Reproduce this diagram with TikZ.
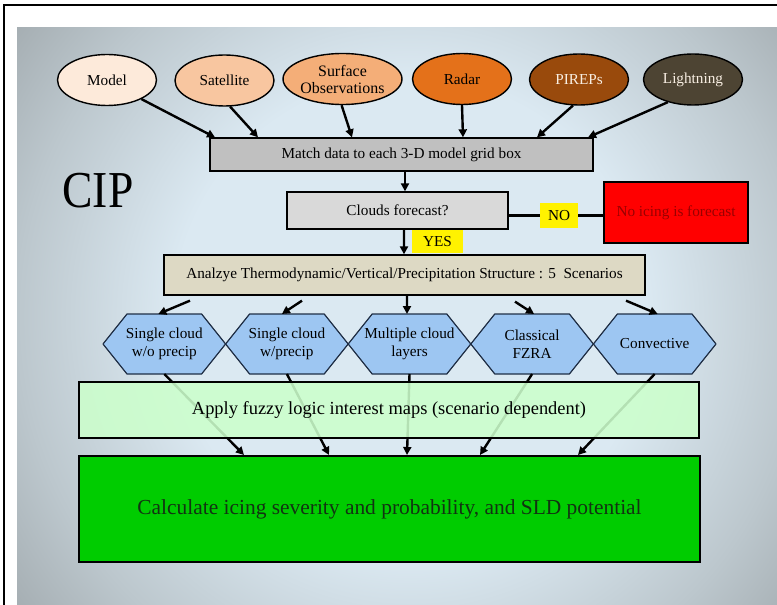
\documentclass[tikz,border=0pt]{standalone}
\usepackage{fontspec}
\setmainfont{Liberation Serif}
\usetikzlibrary{arrows.meta,calc,shapes.geometric,backgrounds}

% palette
\definecolor{bgin}{HTML}{DBE9F2}
\definecolor{bgmid}{HTML}{BCC7CD}
\definecolor{bgout}{HTML}{9EA6AA}
\definecolor{cmodel}{HTML}{FDEADA}
\definecolor{csat}{HTML}{F8C6A0}
\definecolor{csurf}{HTML}{F4AE78}
\definecolor{cradar}{HTML}{E4711A}
\definecolor{cpirep}{HTML}{994A0C}
\definecolor{clight}{HTML}{4D4433}
\definecolor{cmatch}{HTML}{C0C0C0}
\definecolor{cclouds}{HTML}{D9D9D9}
\definecolor{canalyze}{HTML}{DDD9C4}
\definecolor{chex}{HTML}{9DC6F2}
\definecolor{chexline}{HTML}{1F2E45}
\definecolor{cfuzzy}{HTML}{CCFFCC}
\definecolor{cgreen}{HTML}{00CC00}
\definecolor{cgreentext}{HTML}{123312}
\definecolor{cred}{HTML}{FF0000}
\definecolor{credtext}{HTML}{990000}
\definecolor{clighttext}{HTML}{F8EEE2}

% slide vignette: the path's box maps to the central 50bp square of the shading
\pgfdeclareradialshading{slidevignette}{\pgfpoint{0bp}{0bp}}{%
  color(0bp)=(bgin); color(15bp)=(bgin); color(25bp)=(bgmid);
  color(33bp)=(bgout); color(50bp)=(bgout)}

\begin{document}
\begin{tikzpicture}[x=1bp,y=-1bp,
  txt/.style={font=\fontsize{15.3}{18}\selectfont},
  src/.style={ellipse, draw=black, line width=1.4bp, minimum width=99bp,
    minimum height=51bp, inner sep=0pt, align=center, txt},
  box/.style={rectangle, draw=black, line width=1.3bp, inner sep=0pt,
    align=center, txt},
  tag/.style={rectangle, fill=yellow, inner sep=0pt, txt},
  hexnode/.style={rectangle, minimum width=122.6bp, minimum height=60bp,
    inner sep=0pt, outer sep=0pt, align=center, txt},
  hexshape/.style={fill=chex, draw=chexline, line width=1.2bp, line join=round},
  arr/.style={draw=black, line width=2.4bp, -{Triangle[length=8bp,width=8bp]}},
  link/.style={draw=black, line width=2.4bp},
]
\useasboundingbox (0,0) rectangle (777,605);

% page, slide background and frame
\begin{scope}[on background layer]
  \fill[white] (0,0) rectangle (777,605);
  \begin{scope}
    \clip (17,28) rectangle (777,605);
    \shade[shading=slidevignette] (17,-80) rectangle (803,713);
  \end{scope}
  \draw[line width=2bp] (3.5,605) -- (3.5,5) -- (777,5);
\end{scope}

% title
\node[font=\fontsize{52}{60}\selectfont, inner sep=0pt] (title) at (98,190.5)
  {\scalebox{0.88}[1]{CIP}};

% data sources
\node[src, fill=cmodel] (model) at (107,80) {Model};
\node[src, fill=csat] (sat) at (224.5,80.5) {Satellite};
\node[src, fill=csurf, font=\fontsize{16}{17}\selectfont] (surf) at (342.5,79) {Surface\\Observations};
\node[src, fill=cradar] (radar) at (462,79) {Radar};
\node[src, fill=cpirep, text=clighttext] (pirep) at (579,79.5) {PIREPs};
\node[src, fill=clight, text=clighttext] (light) at (693,79.5) {Lightning};

% processing chain
\node[box, fill=cmatch, minimum width=383bp, minimum height=33bp] (match) at (401.5,154.5)
  {Match data to each 3-D model grid box};
\node[box, fill=cclouds, minimum width=221bp, minimum height=37bp] (clouds) at (397.5,210.5)
  {Clouds forecast?};
\node[box, fill=cred, text=credtext, minimum width=144bp, minimum height=61bp] (red) at (676,212.5)
  {No icing is forecast};
\node[tag, minimum width=38bp, minimum height=25bp] (no) at (559,215.5) {NO};
\node[tag, minimum width=51bp, minimum height=23bp] (yes) at (437.5,241.5) {YES};
\node[box, fill=canalyze, minimum width=481bp, minimum height=40bp] (an) at (404.5,275)
  {Analzye Thermodynamic/Vertical/Precipitation Structure : 5\ \ Scenarios};

% scenarios
\node[hexnode] (h1) at (164.3,344) {Single cloud\\w/o precip};
\node[hexnode] (h2) at (286.9,344) {Single cloud\\w/precip};
\node[hexnode] (h3) at (409.5,344) {Multiple cloud\\layers};
\node[hexnode] (h4) at (532.1,344) {Classical\\FZRA};
\node[hexnode] (h5) at (654.7,344) {Convective};
\begin{scope}[on background layer]
  \foreach \h in {h1,h2,h3,h4,h5}
    \draw[hexshape] (\h.west) -- ($(\h.north west)+(24,0)$) -- ($(\h.north east)+(-24,0)$)
      -- (\h.east) -- ($(\h.south east)+(-24,0)$) -- ($(\h.south west)+(24,0)$) -- cycle;
\end{scope}

% result box
\node[box, fill=cgreen, text=cgreentext, line width=2bp, minimum width=621bp, minimum height=106bp,
  font=\fontsize{21.5}{25}\selectfont] (res) at (389.5,509)
  {Calculate icing severity and probability, and SLD potential};

% sources into the grid matching
\draw[arr] (model.-29) -- ($(match.north)+(-186.5,0)$);
\draw[arr] (sat.-78) -- ($(match.north)+(-143.5,0)$);
\draw[arr] (surf.-92) -- ($(match.north)+(-49.5,0)$);
\draw[arr] (radar.south) -- ($(match.north)+(61.5,0)$);
\draw[arr] (pirep.-103) -- ($(match.north)+(135.5,0)$);
\draw[arr] (light.-138) -- ($(match.north)+(186.5,0)$);

% decision
\draw[arr] ($(match.south)+(3.5,0)$) -- ($(clouds.north)+(7.5,0)$);
\draw[arr] ($(clouds.south)+(6.5,0)$) -- ($(an.north)+(-0.5,0)$);
\draw[link] (clouds.east |- no.west) -- (no.west);
\draw[link] (no.east) -- (red.west |- no.east);

% structure into scenarios
\draw[arr] ($(an.south)+(-214.5,5)$) -- ($(h1.north)+(-6,0)$);
\draw[arr] ($(an.south)+(-102.5,5)$) -- ($(h2.north)+(-5,0)$);
\draw[arr] ($(an.south)+(2.5,0)$) -- ($(h3.north)+(-2.5,0)$);
\draw[arr] ($(an.south)+(110.5,6)$) -- ($(h4.north)+(2,0)$);
\draw[arr] ($(an.south)+(221.5,5)$) -- ($(h5.north)+(3,0)$);

% scenarios into the result, passing behind the interest-map box
\draw[arr] (h1.south) -- ($(res.north)+(-145.5,0)$);
\draw[arr] (h2.south) -- ($(res.north)+(-60.5,0)$);
\draw[arr] (h3.south) -- ($(res.north)+(17.5,0)$);
\draw[arr] (h4.south) -- ($(res.north)+(90.5,0)$);
\draw[arr] (h5.south) -- ($(res.north)+(188.5,0)$);

\node[box, fill=cfuzzy, fill opacity=0.88, text opacity=1, minimum width=620bp, minimum height=56bp,
  font=\fontsize{18.5}{21}\selectfont] (fuzzy) at (389,410)
  {Apply fuzzy logic interest maps (scenario dependent)};
\end{tikzpicture}
\end{document}
